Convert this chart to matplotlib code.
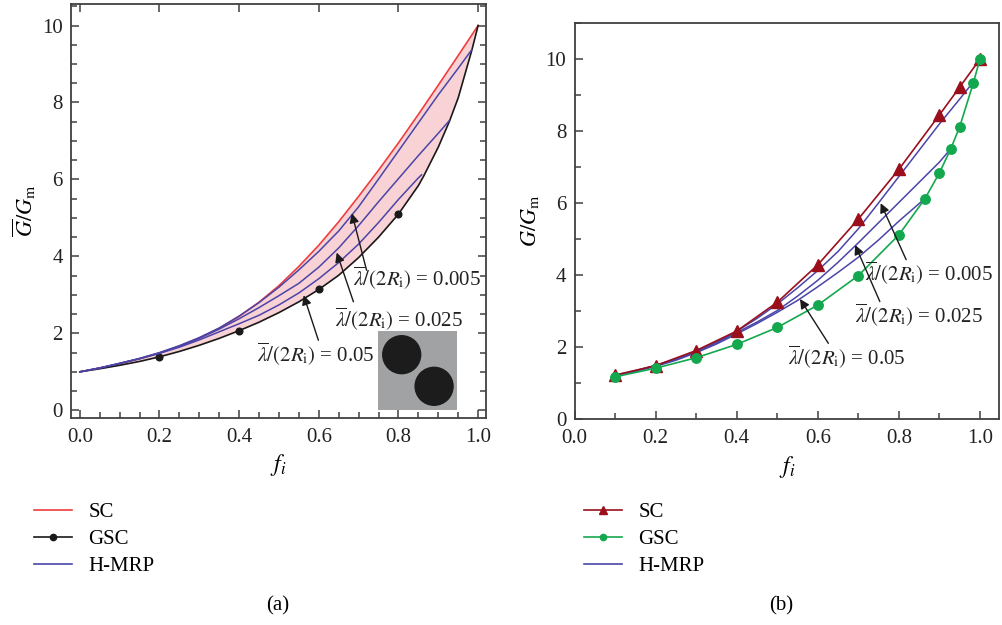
import numpy as np
import matplotlib
matplotlib.use("Agg")
import matplotlib.pyplot as plt
from matplotlib.patches import Circle
from matplotlib.lines import Line2D
from matplotlib.ticker import MultipleLocator, FormatStrFormatter

plt.rcParams["font.family"] = ["Liberation Serif", "DejaVu Serif"]
plt.rcParams["mathtext.fontset"] = "stix"

# =====================================
# Data: effective shear modulus vs. inclusion fraction
# =====================================

# fine grid for the smooth curves in panel (a)
f_grid = [0.0, 0.05, 0.1, 0.15, 0.2, 0.25, 0.3, 0.35, 0.4, 0.45, 0.5,
          0.55, 0.6, 0.65, 0.7, 0.75, 0.8, 0.85, 0.9, 0.95, 1.0]
sc_curve = [1.00, 1.10, 1.21, 1.34, 1.49, 1.67, 1.88, 2.13, 2.44, 2.81, 3.24,
            3.74, 4.29, 4.90, 5.56, 6.24, 6.95, 7.69, 8.45, 9.22, 10.0]

gsc_f = [0.0, 0.05, 0.1, 0.15, 0.2, 0.25, 0.3, 0.35, 0.4, 0.45, 0.5, 0.55,
         0.6, 0.65, 0.7, 0.75, 0.8, 0.85, 0.864, 0.9, 0.928, 0.95, 0.984, 1.0]
gsc_curve = [1.00, 1.08, 1.17, 1.27, 1.39, 1.53, 1.69, 1.87, 2.07, 2.29, 2.54, 2.82,
             3.14, 3.51, 3.97, 4.50, 5.10, 5.84, 6.10, 6.84, 7.51, 8.12, 9.35, 10.0]
gsc_dot_idx = [4, 8, 12, 16]   # symbols at f = 0.2, 0.4, 0.6, 0.8

# H-MRP curves, three interphase thicknesses
mrp_f_005 = [0.0, 0.05, 0.1, 0.15, 0.2, 0.25, 0.3, 0.35, 0.4, 0.45, 0.5,
             0.55, 0.6, 0.65, 0.7, 0.75, 0.8, 0.85, 0.9, 0.95, 0.984]
mrp_005 = [1.00, 1.10, 1.22, 1.35, 1.50, 1.68, 1.89, 2.14, 2.45, 2.80, 3.20,
           3.65, 4.13, 4.66, 5.29, 6.01, 6.74, 7.47, 8.20, 8.89, 9.37]
mrp_f_025 = [0.0, 0.05, 0.1, 0.15, 0.2, 0.25, 0.3, 0.35, 0.4, 0.45, 0.5,
             0.55, 0.6, 0.65, 0.7, 0.75, 0.8, 0.85, 0.9, 0.927]
mrp_025_a = [1.00, 1.10, 1.22, 1.34, 1.49, 1.66, 1.87, 2.11, 2.38, 2.67, 2.98,
             3.30, 3.72, 4.22, 4.80, 5.42, 6.02, 6.62, 7.20, 7.52]
mrp_f_05 = [0.0, 0.05, 0.1, 0.15, 0.2, 0.25, 0.3, 0.35, 0.4, 0.45, 0.5,
            0.55, 0.6, 0.65, 0.7, 0.75, 0.8, 0.85, 0.858]
mrp_05_a = [1.00, 1.10, 1.22, 1.34, 1.48, 1.64, 1.83, 2.04, 2.25, 2.47, 2.74,
            3.05, 3.42, 3.84, 4.32, 4.88, 5.48, 6.04, 6.12]

# panel (b): symbol data and H-MRP curves
sc_f_b = [0.1, 0.2, 0.3, 0.4, 0.5, 0.6, 0.7, 0.8, 0.9, 0.95, 1.0]
sc_b = [1.23, 1.49, 1.91, 2.45, 3.25, 4.29, 5.56, 6.94, 8.45, 9.22, 10.0]
gsc_f_b = [0.1, 0.2, 0.3, 0.4, 0.5, 0.6, 0.7, 0.8, 0.864, 0.9, 0.928, 0.95, 0.984, 1.0]
gsc_b = [1.18, 1.42, 1.71, 2.08, 2.55, 3.17, 3.99, 5.12, 6.12, 6.84, 7.51, 8.12, 9.35, 10.0]

mrp_f_025_b = [0.1, 0.15, 0.2, 0.25, 0.3, 0.35, 0.4, 0.45, 0.5, 0.55,
               0.6, 0.65, 0.7, 0.75, 0.8, 0.85, 0.9, 0.928]
mrp_025_b = [1.21, 1.34, 1.49, 1.66, 1.87, 2.12, 2.41, 2.70, 3.02, 3.42,
             3.86, 4.36, 4.90, 5.46, 6.02, 6.58, 7.14, 7.51]
mrp_f_05_b = [0.1, 0.15, 0.2, 0.25, 0.3, 0.35, 0.4, 0.45, 0.5, 0.55,
              0.6, 0.65, 0.7, 0.75, 0.8, 0.85, 0.864]
mrp_05_b = [1.20, 1.33, 1.47, 1.64, 1.85, 2.09, 2.37, 2.66, 2.97, 3.30,
            3.68, 4.08, 4.50, 4.98, 5.50, 5.99, 6.12]

labels = ["0.005", "0.025", "0.05"]
mrp_a = [(mrp_f_005, mrp_005), (mrp_f_025, mrp_025_a), (mrp_f_05, mrp_05_a)]
mrp_b = [(mrp_f_005[2:], mrp_005[2:]), (mrp_f_025_b, mrp_025_b), (mrp_f_05_b, mrp_05_b)]

FS = 15
RED_A = "#f03c3c"
BLUE = "#4a45a8"
DARK_RED = "#9b0f1c"
GREEN = "#14a84e"
SPINE = "#404040"
INK = "#222222"


def lam_text(val):
    return r"$\overline{\lambda}/(2R_{\mathrm{i}})$ = " + val


def style_axes(ax):
    for s in ax.spines.values():
        s.set_color(SPINE)
        s.set_linewidth(1.3)
    ax.tick_params(which="both", direction="in", colors=SPINE, labelcolor=INK,
                   labelsize=FS, width=1.1)
    ax.tick_params(which="major", length=6)
    ax.tick_params(which="minor", length=4)
    ax.tick_params(axis="x", pad=7)
    ax.tick_params(axis="y", pad=6)


def add_labels(ax, spots):
    for lab, (tip, tail, txt) in zip(labels, spots):
        ax.annotate("", xy=tip, xytext=tail,
                    arrowprops=dict(arrowstyle="-|>", color="#1a1a1a", lw=1.0,
                                    mutation_scale=14, shrinkA=0, shrinkB=0))
        ax.text(txt[0], txt[1], lam_text(lab), fontsize=FS, va="center",
                ha="left", color=INK)


fig = plt.figure(figsize=(10.02, 6.25), dpi=100)

# =====================================
# (a)
# =====================================
ax1 = fig.add_axes([0.0709, 0.3312, 0.4142, 0.6624])
ax1.fill_between(f_grid, np.interp(f_grid, gsc_f, gsc_curve), sc_curve,
                 color="#f9d2d5", lw=0)
ax1.plot(f_grid, sc_curve, color=RED_A, lw=1.2)
ax1.plot(gsc_f, gsc_curve, color="#1a1a1a", lw=1.2, marker="o", ms=4.8,
         markevery=gsc_dot_idx)
for fx, gy in mrp_a:
    ax1.plot(fx, gy, color=BLUE, lw=1.1)

ax1.set_xlim(-0.022, 1.02)
ax1.set_ylim(-0.2, 10.56)
ax1.xaxis.set_major_locator(MultipleLocator(0.2))
ax1.xaxis.set_minor_locator(MultipleLocator(0.05))
ax1.yaxis.set_major_locator(MultipleLocator(2))
ax1.yaxis.set_minor_locator(MultipleLocator(0.5))
ax1.xaxis.set_major_formatter(FormatStrFormatter("%.1f"))
style_axes(ax1)
ax1.tick_params(top=True, right=True, which="both")
ax1.tick_params(axis="x", which="minor", top=False)
ax1.set_xlabel(r"$f_i$", fontsize=FS + 2, labelpad=4)
ax1.set_ylabel(r"$\overline{G}/G_{\mathrm{m}}$", fontsize=FS + 1, labelpad=3)

add_labels(ax1, [((0.683, 5.12), (0.72, 3.64), (0.686, 3.46)),
                 ((0.645, 4.10), (0.687, 2.82), (0.641, 2.39)),
                 ((0.562, 2.99), (0.599, 1.82), (0.444, 1.47))])

# inset: two particles in a square cell
ins = fig.add_axes([378 / 1002, 1 - 410 / 625, 79 / 1002, 79 / 625])
ins.set_facecolor("#a0a2a3")
ins.set_xlim(0, 1)
ins.set_ylim(0, 1)
for s in ins.spines.values():
    s.set_visible(False)
ins.set_xticks([])
ins.set_yticks([])
ins.add_patch(Circle((0.30, 0.70), 0.24, color="#1c1c1c"))
ins.add_patch(Circle((0.71, 0.30), 0.24, color="#1c1c1c"))

# =====================================
# (b)
# =====================================
ax2 = fig.add_axes([0.5735, 0.3291, 0.4235, 0.634])
for fx, gy in mrp_b:
    ax2.plot(fx, gy, color=BLUE, lw=1.1)
ax2.plot(sc_f_b, sc_b, "-^", color=DARK_RED, lw=1.2, ms=8)
ax2.plot(gsc_f_b, gsc_b, "-o", color=GREEN, lw=1.2, ms=6.8)

ax2.set_xlim(0.0, 1.047)
ax2.set_ylim(0.0, 11.0)
ax2.xaxis.set_major_locator(MultipleLocator(0.2))
ax2.xaxis.set_minor_locator(MultipleLocator(0.1))
ax2.yaxis.set_major_locator(MultipleLocator(2))
ax2.yaxis.set_minor_locator(MultipleLocator(1))
ax2.xaxis.set_major_formatter(FormatStrFormatter("%.1f"))
style_axes(ax2)
ax2.set_xlabel(r"$f_i$", fontsize=FS + 2, labelpad=4)
ax2.set_ylabel(r"$G/G_{\mathrm{m}}$", fontsize=FS + 1, labelpad=3)

add_labels(ax2, [((0.755, 6.00), (0.818, 4.43), (0.716, 4.06)),
                 ((0.692, 4.84), (0.753, 3.27), (0.692, 2.90)),
                 ((0.556, 3.34), (0.626, 2.11), (0.527, 1.74))])

# =====================================
# Legends and panel tags
# =====================================
h_a = [Line2D([], [], color=RED_A, lw=1.2),
       Line2D([], [], color="#1a1a1a", lw=1.2, marker="o", ms=4.5),
       Line2D([], [], color=BLUE, lw=1.2)]
h_b = [Line2D([], [], color=DARK_RED, lw=1.2, marker="^", ms=6),
       Line2D([], [], color=GREEN, lw=1.2, marker="o", ms=4.5),
       Line2D([], [], color=BLUE, lw=1.2)]
names = ["SC", "GSC", "H-MRP"]
leg_kw = dict(frameon=False, fontsize=FS, handlelength=1.8, handletextpad=0.8,
              labelspacing=0.36, borderaxespad=0, loc="upper left")
fig.legend(h_a, names, bbox_to_anchor=(26 / 1002, 1 - 494 / 625), **leg_kw)
fig.legend(h_b, names, bbox_to_anchor=(576 / 1002, 1 - 494 / 625), **leg_kw)

fig.text(278 / 1002, 1 - 606 / 625, "(a)", fontsize=FS, ha="center", va="center")
fig.text(781 / 1002, 1 - 606 / 625, "(b)", fontsize=FS, ha="center", va="center")

fig.savefig("out.png", dpi=100)
